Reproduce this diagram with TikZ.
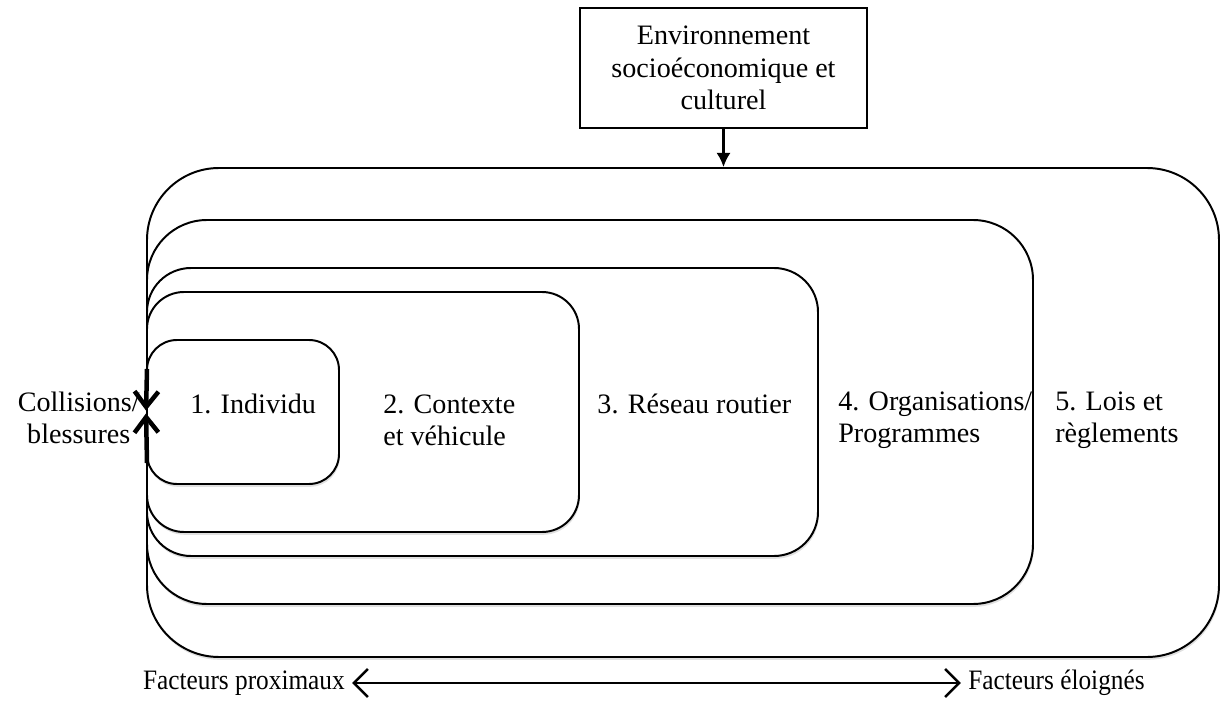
\documentclass[tikz,border=0pt]{standalone}
\usepackage{fontspec}
\setmainfont{Liberation Serif}
\usetikzlibrary{positioning,arrows.meta,shadows}
\tikzset{
  layer/.style={draw=black,fill=white,line width=1.4pt,
    drop shadow={shadow xshift=0.6pt,shadow yshift=-2pt,opacity=0.12,fill=black}},
  envbox/.style={draw=black,fill=white,line width=1.3pt,
    minimum width=7.175cm,minimum height=3cm,align=center,
    font=\fontsize{20}{23}\selectfont},
  lbl/.style={align=left,font=\fontsize{20}{23}\selectfont,inner sep=0pt},
  axislbl/.style={font=\fontsize{20}{23}\selectfont,inner sep=0pt,xscale=0.9,transform shape},
  feedarrow/.style={-{Latex[length=10pt,width=10pt]},line width=1.5pt},
  crasharrow/.style={-{Straight Barb[length=11pt,width=17pt]},line width=3.2pt},
  rangearrow/.style={{Straight Barb[length=10pt,width=20pt]}-{Straight Barb[length=10pt,width=20pt]},line width=1.8pt},
}
\begin{document}
\begin{tikzpicture}
  \useasboundingbox (0,0) rectangle (30.5,-18.075);
  % nested levels, outermost first
  \node[layer,rounded corners=1.8cm,minimum width=26.8cm,minimum height=12.225cm] (l5) at (17.075,-10.3125) {};
  \node[layer,rounded corners=1.5cm,minimum width=22.15cm,minimum height=9.6cm] (l4) at (14.75,-10.3) {};
  \node[layer,rounded corners=1.1cm,minimum width=16.775cm,minimum height=7.2cm] (l3) at (12.0625,-10.3) {};
  \node[layer,rounded corners=0.925cm,minimum width=10.8cm,minimum height=6cm] (l2) at (9.075,-10.3) {};
  \node[layer,rounded corners=0.75cm,minimum width=4.8cm,minimum height=3.6cm] (l1) at (6.075,-10.3) {};
  \node[envbox] (env) at (18.0875,-1.7) {Environnement\\socioéconomique et\\culturel};
  % labels
  \node[lbl,anchor=west] (t1) at (4.75,-10.1) {1. Individu};
  \node[lbl,anchor=west] (t2) at (9.575,-10.5) {2. Contexte\\et véhicule};
  \node[lbl,anchor=west] (t3) at (14.93,-10.1) {3. Réseau routier};
  \node[lbl,anchor=west] (t4) at (20.95,-10.5) {4. Organisations/\\Programmes};
  \node[lbl,anchor=west] (t5) at (26.375,-10.5) {5. Lois et\\règlements};
  \node[lbl,align=center,anchor=east] (coll) at (3.5,-10.45) {Collisions/\\blessures};
  % arrows
  \draw[feedarrow] (env.south) -- (env.south |- l5.north);
  \coordinate (ctop) at (3.675,-9.225);
  \coordinate (cbot) at (3.675,-11.575);
  \draw[crasharrow,shorten >=1pt] (ctop) -- (l1.west);
  \draw[crasharrow,shorten >=1pt] (cbot) -- (l1.west);
  % bottom axis
  \node[axislbl,anchor=east] (prox) at (8.625,-17.075) {Facteurs proximaux};
  \node[axislbl,anchor=west] (elo) at (24.2,-17.075) {Facteurs éloignés};
  \draw[rangearrow] ([xshift=5pt]prox.east) -- ([xshift=-5pt]elo.west);
\end{tikzpicture}
\end{document}
